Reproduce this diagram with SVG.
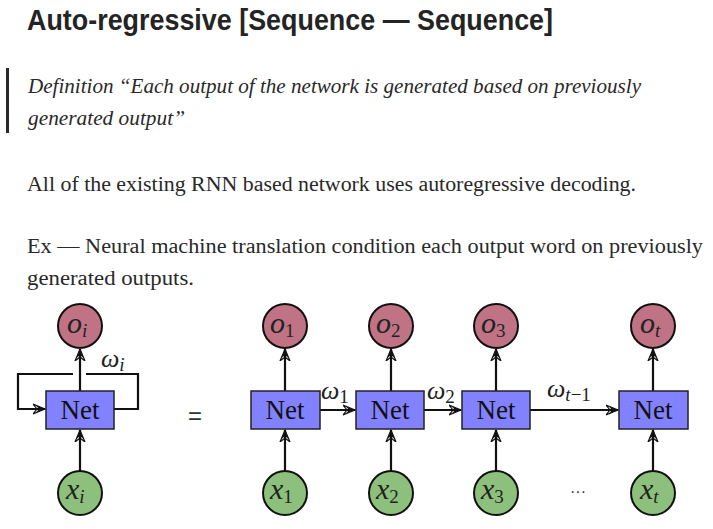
<svg xmlns="http://www.w3.org/2000/svg" width="713" height="529" viewBox="0 0 713 529">
<style>
.title{font-family:"Liberation Sans",Arial,sans-serif;font-weight:bold;font-size:29px;fill:#242424}
.quote{font-family:"Liberation Serif","Times New Roman",serif;font-style:italic;font-size:20px;fill:#292929}
.body{font-family:"Liberation Serif","Times New Roman",serif;font-size:20px;fill:#292929}
.out{fill:#c07384;stroke:#111;stroke-width:2}
.inp{fill:#8dc07c;stroke:#111;stroke-width:2}
.net{fill:#8282ff;stroke:#222;stroke-width:1.5}
.netl{font-family:"Liberation Serif","Times New Roman",serif;font-size:27px;fill:#111;text-anchor:middle}
.m{font-family:"Liberation Serif","Times New Roman",serif;font-style:italic;font-size:30px;fill:#222}
.sub{font-size:19px}
.subn{font-size:19px;font-style:normal}
.lbl{font-family:"Liberation Serif","Times New Roman",serif;font-style:italic;font-size:26px;fill:#222}
.conn{fill:none;stroke:#111;stroke-width:2.2}
</style>
<defs>
<marker id="ah" markerUnits="userSpaceOnUse" markerWidth="14" markerHeight="12" refX="12" refY="5" orient="auto" viewBox="0 0 14 10">
<path d="M0,0 L12,5 L0,10 L4,5 Z" fill="none" stroke="#111" stroke-width="1.2"/>
<path d="M3,1.5 L12,5 L3,8.5 L6,5 Z" fill="#111"/>
</marker>
</defs>
<rect width="713" height="529" fill="#fff"/>
<text class="title" x="27" y="30" textLength="526" lengthAdjust="spacingAndGlyphs">Auto-regressive [Sequence — Sequence]</text>
<rect x="6" y="68" width="3" height="65" fill="#292929"/>
<text class="quote" x="28" y="93" textLength="613" lengthAdjust="spacingAndGlyphs">Definition “Each output of the network is generated based on previously</text>
<text class="quote" x="28" y="125" textLength="157" lengthAdjust="spacingAndGlyphs">generated output”</text>
<text class="body" x="27" y="191" textLength="609" lengthAdjust="spacingAndGlyphs">All of the existing RNN based network uses autoregressive decoding.</text>
<text class="body" x="27" y="253" textLength="676" lengthAdjust="spacingAndGlyphs">Ex — Neural machine translation condition each output word on previously</text>
<text class="body" x="27" y="285" textLength="167" lengthAdjust="spacingAndGlyphs">generated outputs.</text>
<g id="connectors">
<line class="conn" x1="80" y1="391" x2="80" y2="349" marker-end="url(#ah)"/>
<line class="conn" x1="80" y1="472" x2="80" y2="430" marker-end="url(#ah)"/>
<polyline class="conn" points="114,409 138,409 138,374 86,374"/>
<polyline class="conn" points="73,374 18,374 18,409 45,409" marker-end="url(#ah)"/>
<line class="conn" x1="285" y1="391" x2="285" y2="349" marker-end="url(#ah)"/>
<line class="conn" x1="285" y1="472" x2="285" y2="430" marker-end="url(#ah)"/>
<line class="conn" x1="391" y1="391" x2="391" y2="349" marker-end="url(#ah)"/>
<line class="conn" x1="391" y1="472" x2="391" y2="430" marker-end="url(#ah)"/>
<line class="conn" x1="496" y1="391" x2="496" y2="349" marker-end="url(#ah)"/>
<line class="conn" x1="496" y1="472" x2="496" y2="430" marker-end="url(#ah)"/>
<line class="conn" x1="653" y1="391" x2="653" y2="349" marker-end="url(#ah)"/>
<line class="conn" x1="653" y1="472" x2="653" y2="430" marker-end="url(#ah)"/>
<line class="conn" x1="320" y1="410" x2="355" y2="410" marker-end="url(#ah)"/>
<line class="conn" x1="424" y1="410" x2="461" y2="410" marker-end="url(#ah)"/>
<line class="conn" x1="530" y1="410" x2="618" y2="410" marker-end="url(#ah)"/>
<text class="lbl" x="101" y="367">ω<tspan class="sub" dy="4">i</tspan></text>
<text class="lbl" x="321" y="399">ω<tspan class="subn" dy="4">1</tspan></text>
<text class="lbl" x="427" y="399">ω<tspan class="subn" dy="4">2</tspan></text>
<text class="lbl" x="547" y="397">ω<tspan class="sub" dy="4">t</tspan><tspan class="subn">−1</tspan></text>
</g>
<text x="195" y="424" font-family="'Liberation Sans',Arial,sans-serif" font-size="24" fill="#333" text-anchor="middle">=</text>
<text x="578" y="497" font-family="'Liberation Sans',Arial,sans-serif" font-size="16" fill="#333" text-anchor="middle">···</text>
<g id="o_i"><circle class="out" cx="80" cy="326" r="22"/><text class="m" x="67" y="333">o<tspan class="sub" dy="4">i</tspan></text></g>
<g id="net_i"><rect class="net" x="46" y="391" width="68" height="38"/><text class="netl" x="80" y="419">Net</text></g>
<g id="x_i"><circle class="inp" cx="80" cy="493" r="22"/><text class="m" x="66" y="499">x<tspan class="sub" dy="4">i</tspan></text></g>
<g id="o_1"><circle class="out" cx="285" cy="326" r="22"/><text class="m" x="270" y="333">o<tspan class="subn" dy="4">1</tspan></text></g>
<g id="net_1"><rect class="net" x="251" y="391" width="69" height="38"/><text class="netl" x="285" y="419">Net</text></g>
<g id="x_1"><circle class="inp" cx="285" cy="493" r="22"/><text class="m" x="270" y="499">x<tspan class="subn" dy="4">1</tspan></text></g>
<g id="o_2"><circle class="out" cx="391" cy="326" r="22"/><text class="m" x="376" y="333">o<tspan class="subn" dy="4">2</tspan></text></g>
<g id="net_2"><rect class="net" x="356" y="391" width="68" height="38"/><text class="netl" x="390" y="419">Net</text></g>
<g id="x_2"><circle class="inp" cx="391" cy="493" r="22"/><text class="m" x="376" y="499">x<tspan class="subn" dy="4">2</tspan></text></g>
<g id="o_3"><circle class="out" cx="496" cy="326" r="22"/><text class="m" x="481" y="333">o<tspan class="subn" dy="4">3</tspan></text></g>
<g id="net_3"><rect class="net" x="462" y="391" width="68" height="38"/><text class="netl" x="496" y="419">Net</text></g>
<g id="x_3"><circle class="inp" cx="496" cy="493" r="22"/><text class="m" x="481" y="499">x<tspan class="subn" dy="4">3</tspan></text></g>
<g id="o_t"><circle class="out" cx="653" cy="326" r="22"/><text class="m" x="640" y="333">o<tspan class="sub" dy="4">t</tspan></text></g>
<g id="net_t"><rect class="net" x="619" y="391" width="69" height="38"/><text class="netl" x="653" y="419">Net</text></g>
<g id="x_t"><circle class="inp" cx="653" cy="493" r="22"/><text class="m" x="640" y="499">x<tspan class="sub" dy="4">t</tspan></text></g>
</svg>
